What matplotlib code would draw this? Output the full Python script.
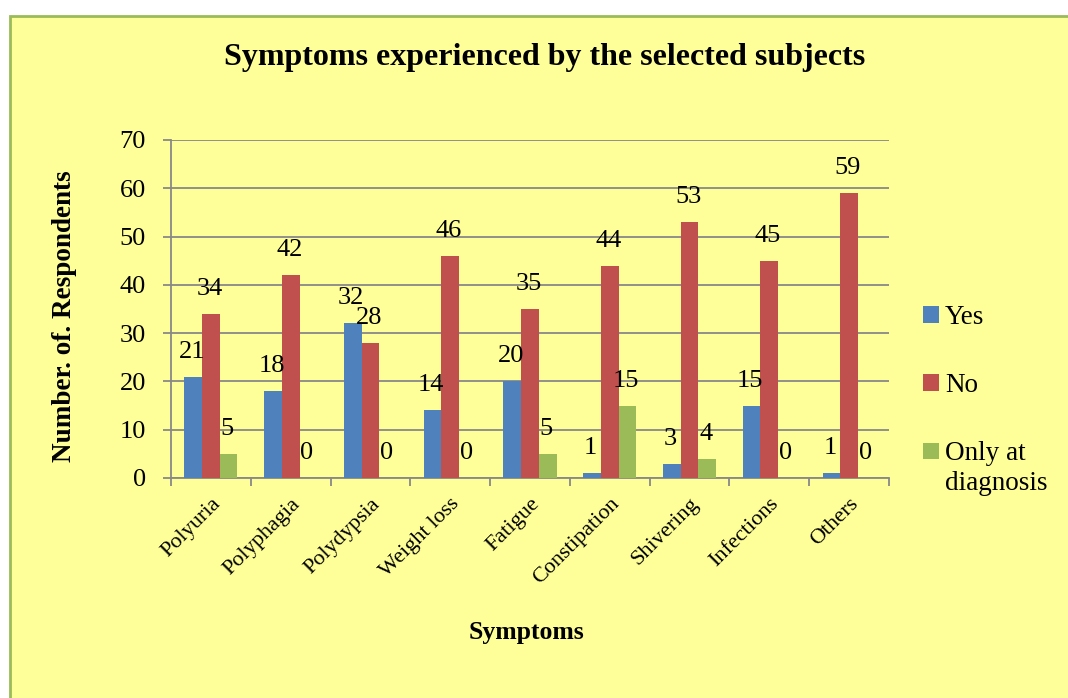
import matplotlib
matplotlib.use("Agg")
import matplotlib.pyplot as plt
from matplotlib.patches import Rectangle
import numpy as np

categories = ["Polyuria", "Polyphagia", "Polydypsia", "Weight loss", "Fatigue",
              "Constipation", "Shivering", "Infections", "Others"]
yes_vals = [21, 18, 32, 14, 20, 1, 3, 15, 1]
no_vals = [34, 42, 28, 46, 35, 44, 53, 45, 59]
diag_vals = [5, 0, 0, 0, 5, 15, 4, 0, 0]
series_names = ["Yes", "No", "Only at"]
series_colors = ["#4F81BD", "#C0504D", "#9BBB59"]

plt.rcParams["font.family"] = ["Liberation Serif", "DejaVu Serif"]

W, H = 1068, 698
fig = plt.figure(figsize=(W / 100, H / 100), dpi=100)
fig.patch.set_facecolor("white")

# chart area background with border
bg = Rectangle((10 / W, -0.05), 1.2, (H - 16) / H + 0.05, transform=fig.transFigure,
               facecolor="#FFFF99", edgecolor="#9BBB59", linewidth=2, zorder=-5)
fig.patches.append(bg)

ax = fig.add_axes([171 / W, 220 / H, 718 / W, 338 / H])
ax.set_facecolor("none")
ax.set_zorder(2)

n = len(categories)
x = np.arange(n)
bw = 1 / 4.5
offsets = [-bw, 0, bw]
series = [yes_vals, no_vals, diag_vals]

for vals, off, col, name in zip(series, offsets, series_colors, series_names):
    ax.bar(x + off, vals, width=bw, color=col, label=name, zorder=3)
    for xi, v in zip(x + off, vals):
        ax.annotate(str(v), (xi, v), xytext=(-1, 18), textcoords="offset points",
                    ha="center", va="center", fontsize=19, zorder=4)

ax.set_xlim(-0.5, n - 0.5)
ax.set_ylim(0, 70)
ax.set_yticks(range(0, 71, 10))
ax.tick_params(axis="y", direction="out", length=6, width=1.3, color="#888888",
               labelsize=19, pad=12)
ax.yaxis.grid(True, color="#888888", linewidth=1.3, zorder=0)
ax.set_axisbelow(True)

ax.set_xticks(x)
ax.set_xticklabels(categories, rotation=45, ha="right", va="top",
                   rotation_mode="anchor", fontsize=16)
ax.tick_params(axis="x", which="major", length=0, pad=12)
ax.set_xticks(np.arange(-0.5, n, 1), minor=True)
ax.tick_params(axis="x", which="minor", direction="out", length=6, width=1.3,
               color="#888888")

for side in ["top", "right"]:
    ax.spines[side].set_visible(False)
for side in ["left", "bottom"]:
    ax.spines[side].set_color("#888888")
    ax.spines[side].set_linewidth(1.3)

fig.text(545 / W, 1 - 58 / H, "Symptoms experienced by the selected subjects",
         ha="center", va="center", fontsize=23, fontweight="bold")
fig.text(65 / W, 1 - 316 / H, "Number. of. Respondents", rotation=90,
         ha="center", va="center", fontsize=19.5, fontweight="bold")
fig.text(527 / W, 1 - 632 / H, "Symptoms", ha="center", va="center",
         fontsize=18.5, fontweight="bold")

leg = fig.legend(loc="upper left", bbox_to_anchor=(899 / W, 1 - 281 / H),
                 frameon=False, fontsize=19.5, handlelength=0.58, handleheight=0.58,
                 handletextpad=0.22, labelspacing=1.59)

# second line of the last legend label, placed under its first line
fig.canvas.draw()
last = leg.get_texts()[-1]
bb = last.get_window_extent()
fig.text(bb.x0 / W, (bb.y0 - 30) / H, "diagnosis", ha="left", va="bottom",
         fontsize=19.5)

fig.savefig("out.png", dpi=100)
